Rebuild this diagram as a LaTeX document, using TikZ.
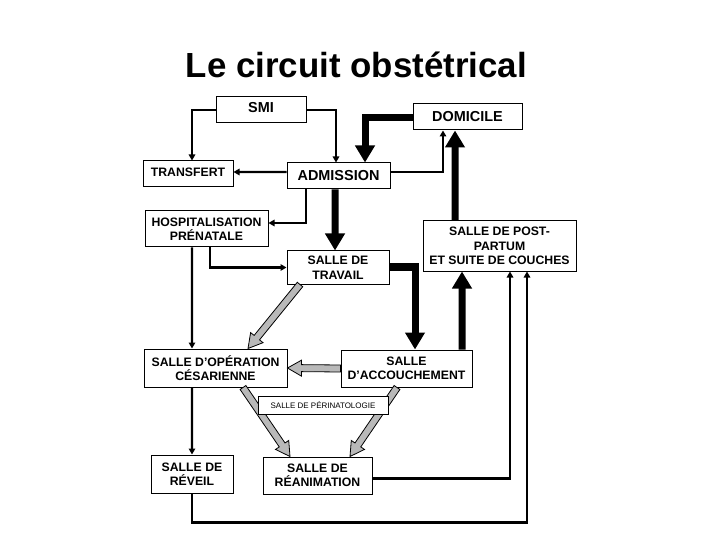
\documentclass[tikz,border=0pt]{standalone}
\usepackage{fontspec}
\setmainfont{Liberation Sans}
\usetikzlibrary{arrows.meta,calc}

\tikzset{
  box/.style={draw, line width=1bp, fill=white, align=center, inner sep=1bp,
    font=\bfseries\fontsize{12.3}{14.5}\selectfont},
  bigbox/.style={box, font=\bfseries\fontsize{14.5}{16}\selectfont},
  thinarrow/.style={line width=2.2bp, -{Triangle[length=6bp,width=6.5bp]}},
  thickarrow/.style={line width=7bp, -{Triangle[length=17bp,width=19bp]}},
  greyarrow/.style={draw, line width=0.8bp, fill=gray!55, line join=miter}
}

% block arrow in grey, from #1 to #2
\newcommand{\greyarrow}[2]{%
  \path (#1) coordinate (ga-s) (#2) coordinate (ga-e);
  \coordinate (ga-b) at ($(ga-e)!14bp!(ga-s)$);
  \draw[greyarrow] ($(ga-s)!3.5bp!90:(ga-e)$) -- ($(ga-b)!3.5bp!-90:(ga-s)$)
    -- ($(ga-b)!8bp!-90:(ga-s)$) -- (ga-e) -- ($(ga-b)!8bp!90:(ga-s)$)
    -- ($(ga-b)!3.5bp!90:(ga-s)$) -- ($(ga-s)!3.5bp!-90:(ga-e)$) -- cycle;
}

\begin{document}
\begin{tikzpicture}[x=1bp, y=-1bp]
        \useasboundingbox (0,0) rectangle (720,540);

        % Title
        \node[anchor=base, font=\bfseries\fontsize{35}{40}\selectfont] (title) at (356.5,78) {Le circuit obstétrical};

        % Boxes
        \node[bigbox, minimum width=90bp, minimum height=26bp, text depth=5bp] (smi) at (261,110) {SMI};
        \node[bigbox, minimum width=109bp, minimum height=26bp] (domicile) at (467.5,117) {DOMICILE};
        \node[box, minimum width=90bp, minimum height=26bp, text depth=4bp] (transfert) at (188,174) {TRANSFERT};
        \node[bigbox, minimum width=103bp, minimum height=26bp] (admission) at (338.5,176) {ADMISSION};
        \node[box, minimum width=123bp, minimum height=36bp] (hospit) at (206.5,229) {HOSPITALISATION\\PRÉNATALE};
        \node[box, minimum width=102bp, minimum height=33bp] (travail) at (338,267.5) {SALLE DE\\TRAVAIL};
        \node[box, minimum width=153bp, minimum height=50bp] (postpartum) at (499.5,246) {SALLE DE POST-\\PARTUM\\ET SUITE DE COUCHES};
        \node[box, minimum width=143bp, minimum height=38bp] (operation) at (215.5,368) {SALLE D’OPÉRATION\\CÉSARIENNE};
        \node[box, minimum width=131bp, minimum height=37bp] (accouch) at (406.5,368.5) {SALLE\\D’ACCOUCHEMENT};
        \node[box, minimum width=82bp, minimum height=38bp] (reveil) at (192,474) {SALLE DE\\RÉVEIL};
        \node[box, minimum width=109bp, minimum height=37bp] (reanim) at (317.5,475.5) {SALLE DE\\RÉANIMATION};

        % Thin arrows
        \draw[thinarrow] (smi.west) -| ([xshift=4bp]transfert.north);
        \draw[thinarrow] (smi.east) -| ([xshift=-2.5bp]admission.north);
        \draw[thinarrow] ([yshift=4bp]admission.west) -- ([yshift=2bp]transfert.east);
        \draw[thinarrow] ([yshift=4bp]admission.east) -| ([xshift=-24.5bp]domicile.south);
        \draw[thinarrow] ([xshift=-32.5bp]admission.south) |- ([yshift=6bp]hospit.east);
        \draw[thinarrow] ([xshift=3.5bp]hospit.south) |- (travail.west);
        \draw[thinarrow] ([xshift=-14.5bp]hospit.south) -- ([xshift=-23.5bp]operation.north);
        \draw[thinarrow] ([xshift=-23.5bp]operation.south) -- (reveil.north);
        \draw[thinarrow] ([yshift=-3bp]reanim.east) -| ([xshift=10.5bp]postpartum.south);
        \draw[thinarrow] (reveil.south) -- ++(0,29) -| ([xshift=27.5bp]postpartum.south);

        % Thick arrows
        \draw[thickarrow] ([yshift=-1bp]domicile.west) -| ([xshift=26.5bp]admission.north);
        \draw[thickarrow] ([xshift=-3.5bp]admission.south) -- ([xshift=-3bp]travail.north);
        \draw[thickarrow] ([yshift=0.5bp]travail.east) -| ([xshift=8.5bp]accouch.north);
        \draw[thickarrow] ([xshift=55.5bp]accouch.north) -- ([xshift=-37.5bp]postpartum.south);
        \draw[thickarrow] ([xshift=-44.5bp]postpartum.north) -- ([xshift=-12.5bp]domicile.south);

        % Grey arrows
        \greyarrow{accouch.west}{operation.east}
        \greyarrow{[xshift=-38bp]travail.south}{[xshift=32.5bp]operation.north}
        \greyarrow{[xshift=27.5bp]operation.south}{[xshift=-27.5bp]reanim.north}
        \greyarrow{[xshift=-9.5bp]accouch.south}{[xshift=32.5bp]reanim.north}

        % Perinatology box, over the grey arrows
        \node[draw, line width=1bp, fill=white, minimum width=130bp, minimum height=18bp, inner sep=1bp,
          font=\fontsize{8}{9}\selectfont] (perinat) at (323,405) {SALLE DE PÉRINATOLOGIE};
    \end{tikzpicture}
\end{document}
